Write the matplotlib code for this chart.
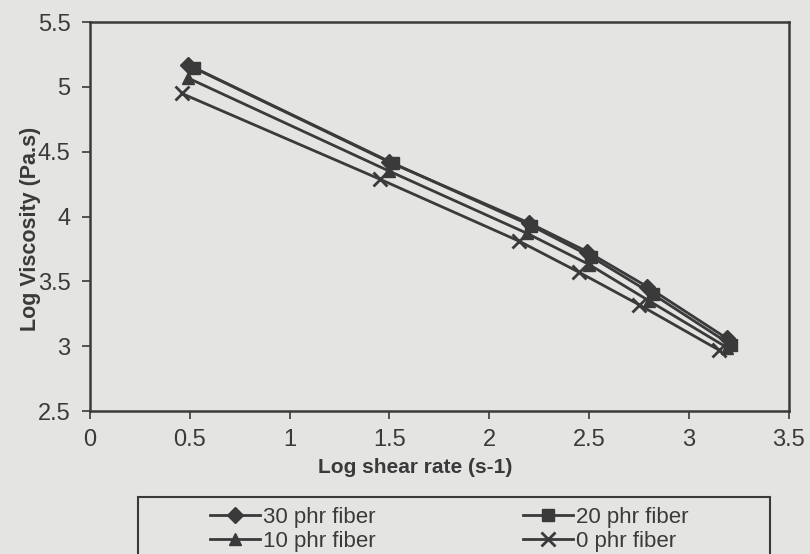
import matplotlib
matplotlib.use('Agg')
from matplotlib import pyplot as plt
from matplotlib.patches import Rectangle

plt.rcParams['font.family'] = ['Liberation Sans', 'DejaVu Sans']

# log shear rate (s-1) / log viscosity (Pa.s) for each fibre loading
x_30 = [0.49, 1.50, 2.20, 2.49, 2.79, 3.19]
y_30 = [5.17, 4.42, 3.95, 3.73, 3.46, 3.06]
x_20 = [0.52, 1.52, 2.21, 2.51, 2.82, 3.21]
y_20 = [5.15, 4.41, 3.93, 3.69, 3.40, 3.01]
x_10 = [0.49, 1.50, 2.19, 2.50, 2.80, 3.19]
y_10 = [5.07, 4.35, 3.87, 3.63, 3.35, 2.99]
x_0 = [0.46, 1.45, 2.15, 2.45, 2.75, 3.15]
y_0 = [4.95, 4.29, 3.81, 3.57, 3.32, 2.97]
labels = ['30 phr fiber', '20 phr fiber', '10 phr fiber', '0 phr fiber']

bg = '#e4e4e2'
ink = '#3a3a3a'

fig = plt.figure(figsize=(8.1, 5.54), dpi=100, facecolor=bg)
ax = fig.add_axes([0.111, 0.258, 0.863, 0.702], facecolor=bg)

h30, = ax.plot(x_30, y_30, color=ink, lw=2, marker='D', ms=8)
h20, = ax.plot(x_20, y_20, color=ink, lw=2, marker='s', ms=9)
h10, = ax.plot(x_10, y_10, color=ink, lw=2, marker='^', ms=9)
h0, = ax.plot(x_0, y_0, color=ink, lw=2, marker='x', ms=10, mew=2)

ax.set_xlim(0, 3.5)
ax.set_ylim(2.5, 5.5)
ax.set_xticks([0, 0.5, 1, 1.5, 2, 2.5, 3, 3.5])
ax.set_xticklabels(['0', '0.5', '1', '1.5', '2', '2.5', '3', '3.5'])
ax.set_yticks([2.5, 3, 3.5, 4, 4.5, 5, 5.5])
ax.set_yticklabels(['2.5', '3', '3.5', '4', '4.5', '5', '5.5'])
ax.tick_params(direction='out', length=6, width=1.2, color=ink,
               labelsize=17, labelcolor=ink)
ax.tick_params(axis='x', pad=7)
ax.tick_params(axis='y', pad=8)
for s in ax.spines.values():
    s.set_color(ink)
    s.set_linewidth(1.8)

ax.set_xlabel('Log shear rate (s-1)', fontsize=15, fontweight='bold', color=ink)
ax.set_ylabel('Log Viscosity (Pa.s)', fontsize=15.5, fontweight='bold', color=ink)
ax.xaxis.set_label_coords(0.465, -0.121)
ax.yaxis.set_label_coords(-0.070, 0.468)

# legend box runs off the bottom edge of the figure
fig.patches.append(Rectangle((138 / 810, -0.05), (770 - 138) / 810, 0.05 + 57 / 554,
                             transform=fig.transFigure, facecolor='none',
                             edgecolor=ink, linewidth=1.5))
leg = fig.legend([h30, h10, h20, h0], [labels[0], labels[2], labels[1], labels[3]],
                 ncol=2, loc='upper left', bbox_to_anchor=(210 / 810, 1 - 507 / 554),
                 fontsize=16, frameon=False, handlelength=2.25,
                 handletextpad=0.15, borderpad=0, labelspacing=0.12,
                 columnspacing=6.6, borderaxespad=0)
for t in leg.get_texts():
    t.set_color(ink)

fig.savefig('out.png', dpi=100, facecolor=bg)
